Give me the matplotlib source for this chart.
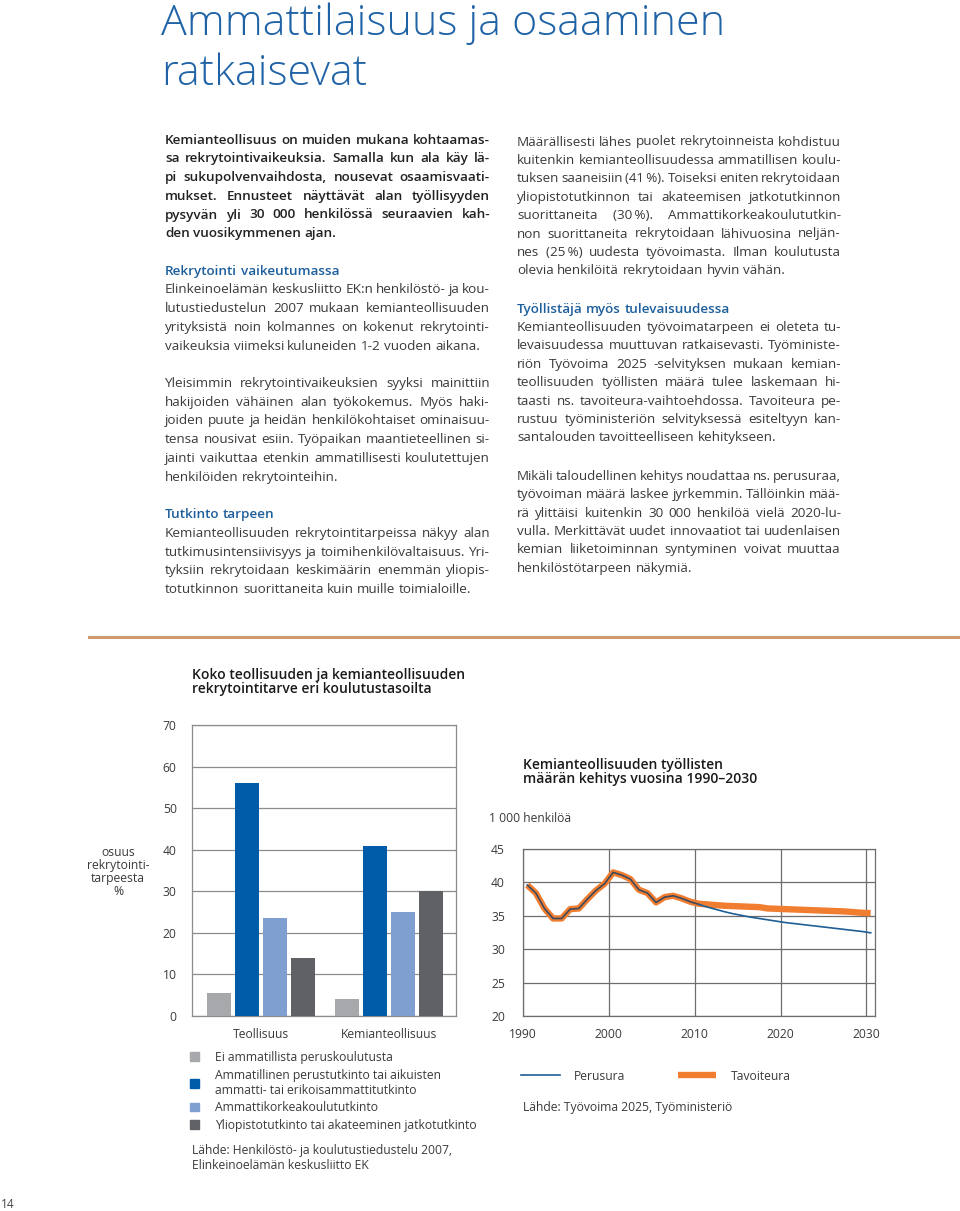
import matplotlib
matplotlib.use("Agg")
import matplotlib.pyplot as plt
from matplotlib.patches import Patch
from matplotlib.lines import Line2D
import numpy as np

W, H = 960, 1211
plt.rcParams['font.family'] = ['Open Sans', 'DejaVu Sans']

# ---- data: bar chart ----
groups = ["Teollisuus", "Kemianteollisuus"]
levels = ["Ei ammatillista peruskoulutusta",
          "Ammatillinen perustutkinto tai aikuisten\nammatti- tai erikoisammattitutkinto",
          "Ammattikorkeakoulututkinto",
          "Yliopistotutkinto tai akateeminen jatkotutkinto"]
share_teollisuus = [5.5, 56, 23.5, 14]
share_kemia = [4, 41, 25, 30]
bar_yticks = [0, 10, 20, 30, 40, 50, 60, 70]

# ---- data: line chart ----
hist_years = list(range(1990, 2010))
hist_values = [39.6, 38.4, 36.1, 34.6, 34.6, 36.0, 36.1, 37.5, 38.8, 39.8,
               41.5, 41.1, 40.5, 38.9, 38.4, 37.0, 37.8, 38.0, 37.6, 37.1]
proj_years = list(range(2010, 2031))
perusura = [36.7, 36.3, 35.95, 35.6, 35.3, 35.05, 34.8, 34.6, 34.4, 34.2,
            34.0, 33.85, 33.7, 33.55, 33.4, 33.25, 33.1, 32.95, 32.8, 32.65, 32.45]
tavoiteura = [36.8, 36.7, 36.6, 36.5, 36.45, 36.4, 36.35, 36.3, 36.1, 36.05,
              36.0, 35.95, 35.9, 35.85, 35.8, 35.75, 35.7, 35.65, 35.55, 35.45, 35.4]
line_xticks = [1990, 2000, 2010, 2020, 2030]
line_yticks = [20, 25, 30, 35, 40, 45]

# ---- page text ----
title_lines = ["Ammattilaisuus ja osaaminen", "ratkaisevat"]
left_col = [
    ("intro", ["Kemianteollisuus on muiden mukana kohtaamas-",
               "sa rekrytointivaikeuksia. Samalla kun ala käy lä-",
               "pi sukupolvenvaihdosta, nousevat osaamisvaati-",
               "mukset. Ennusteet näyttävät alan työllisyyden",
               "pysyvän yli 30 000 henkilössä seuraavien kah-",
               "den vuosikymmenen ajan."]),
    ("head", ["Rekrytointi vaikeutumassa"]),
    ("body", ["Elinkeinoelämän keskusliitto EK:n henkilöstö- ja kou-",
              "lutustiedustelun 2007 mukaan kemianteollisuuden",
              "yrityksistä noin kolmannes on kokenut rekrytointi-",
              "vaikeuksia viimeksi kuluneiden 1-2 vuoden aikana."]),
    ("body", ["Yleisimmin rekrytointivaikeuksien syyksi mainittiin",
              "hakijoiden vähäinen alan työkokemus. Myös haki-",
              "joiden puute ja heidän henkilökohtaiset ominaisuu-",
              "tensa nousivat esiin. Työpaikan maantieteellinen si-",
              "jainti vaikuttaa etenkin ammatillisesti koulutettujen",
              "henkilöiden rekrytointeihin."]),
    ("head", ["Tutkinto tarpeen"]),
    ("body", ["Kemianteollisuuden rekrytointitarpeissa näkyy alan",
              "tutkimusintensiivisyys ja toimihenkilövaltaisuus. Yri-",
              "tyksiin rekrytoidaan keskimäärin enemmän yliopis-",
              "totutkinnon suorittaneita kuin muille toimialoille."]),
]
right_col = [
    ("body", ["Määrällisesti lähes puolet rekrytoinneista kohdistuu",
              "kuitenkin kemianteollisuudessa ammatillisen koulu-",
              "tuksen saaneisiin (41\u2009%). Toiseksi eniten rekrytoidaan",
              "yliopistotutkinnon tai akateemisen jatkotutkinnon",
              "suorittaneita (30\u2009%). Ammattikorkeakoulututkin-",
              "non suorittaneita rekrytoidaan lähivuosina neljän-",
              "nes (25\u2009%) uudesta työvoimasta. Ilman koulutusta",
              "olevia henkilöitä rekrytoidaan hyvin vähän."]),
    ("head", ["Työllistäjä myös tulevaisuudessa"]),
    ("body", ["Kemianteollisuuden työvoimatarpeen ei oleteta tu-",
              "levaisuudessa muuttuvan ratkaisevasti. Työministe-",
              "riön Työvoima 2025 -selvityksen mukaan kemian-",
              "teollisuuden työllisten määrä tulee laskemaan hi-",
              "taasti ns. tavoiteura-vaihtoehdossa. Tavoiteura pe-",
              "rustuu työministeriön selvityksessä esiteltyyn kan-",
              "santalouden tavoitteelliseen kehitykseen."]),
    ("body", ["Mikäli taloudellinen kehitys noudattaa ns. perusuraa,",
              "työvoiman määrä laskee jyrkemmin. Tällöinkin mää-",
              "rä ylittäisi kuitenkin 30 000 henkilöä vielä 2020-lu-",
              "vulla. Merkittävät uudet innovaatiot tai uudenlaisen",
              "kemian liiketoiminnan syntyminen voivat muuttaa",
              "henkilöstötarpeen näkymiä."]),
]

BLUE_TXT = "#1d5f9c"
BODY = "#3a3a3a"
FS_BODY = 9.7
FS_SMALL = 8.7
MIN_GAP = 2.3

fig = plt.figure(figsize=(W / 100, H / 100), dpi=100)
renderer = fig.canvas.get_renderer()


def fx(x):
    return x / W


def fy(y):
    return 1 - y / H


def word_widths(words, **kw):
    objs = [fig.text(0, 0, w_, **kw) for w_ in words]
    ws = [o.get_window_extent(renderer).width for o in objs]
    for o in objs:
        o.remove()
    return ws


def draw_line_justified(x0, y, text, width, justify, **kw):
    words = text.split(" ")
    n_gaps = max(len(words) - 1, 1)
    ws = word_widths(words, **kw)
    need = sum(ws) + n_gaps * MIN_GAP
    if need > width:
        # only a tiny shrink is needed for the tightest lines
        kw = dict(kw)
        kw["fontsize"] = kw["fontsize"] * (width - n_gaps * MIN_GAP) / sum(ws)
        ws = word_widths(words, **kw)
    if justify:
        gap = (width - sum(ws)) / n_gaps
    else:
        gap = word_widths(["a a"], **kw)[0] - word_widths(["aa"], **kw)[0]
        gap = min(gap, (width - sum(ws)) / n_gaps)
    x = x0
    for w_, ww in zip(words, ws):
        fig.text(fx(x), fy(y), w_, va="center", ha="left", **kw)
        x += ww + gap


def draw_column(blocks, x0, y0, width, step, para_gap):
    y = y0
    prev = None
    for kind, lines in blocks:
        if prev is not None and prev != "head":
            y += para_gap
        if kind == "head":
            style = dict(color=BLUE_TXT, fontsize=FS_BODY, fontweight="semibold")
        elif kind == "intro":
            style = dict(color="#222222", fontsize=FS_BODY, fontweight="semibold")
        else:
            style = dict(color=BODY, fontsize=FS_BODY)
        for i, ln in enumerate(lines):
            last = (i == len(lines) - 1) or kind == "head"
            draw_line_justified(x0, y, ln, width, not last, **style)
            y += step
        prev = kind


# title
for i, t in enumerate(title_lines):
    fig.text(fx(161), fy(24 + i * 50), t, fontsize=31, color="#1f63a6",
             fontweight="light", va="center", ha="left")

draw_column(left_col, 165, 140, 325, 18.75, 18.6)
draw_column(right_col, 517, 142, 324, 18.4, 20)

# separator line
fig.add_artist(Line2D([fx(89), fx(960)], [fy(637), fy(637)], color="#d09a70", lw=2.2))

# page number
fig.text(fx(1), fy(1205), "14", fontsize=8.5, color="#444444", va="center", ha="left")

# ---------------- bar chart ----------------
ax1 = fig.add_axes([fx(192), fy(1016), (456 - 192) / W, (1016 - 725) / H])
bar_colors = ["#a6a8ab", "#005ca9", "#7f9fd0", "#606164"]
x = np.arange(len(groups))
bw = 0.1875
step_b = 0.219
data = np.array([share_teollisuus, share_kemia])
handles = []
for k in range(len(levels)):
    ax1.bar(x + (k - 1.5) * step_b, data[:, k], width=bw, color=bar_colors[k], zorder=3)
    handles.append(Patch(color=bar_colors[k]))
ax1.set_xlim(-0.539, 1.523)
ax1.set_ylim(0, 70)
ax1.set_yticks(bar_yticks)
ax1.set_xticks(x)
ax1.set_xticklabels(groups)
ax1.tick_params(axis="both", length=0, labelsize=FS_SMALL, labelcolor="#3a3a3a")
ax1.tick_params(axis="y", pad=11)
ax1.tick_params(axis="x", pad=9)
ax1.grid(axis="y", color="#8c8c8c", lw=0.9, zorder=0)
for s in ax1.spines.values():
    s.set_color("#8c8c8c")
    s.set_linewidth(0.9)

fig.text(fx(118), fy(872), "osuus\nrekrytointi-\ntarpeesta\n%", ha="center", va="center",
         fontsize=FS_SMALL, color="#3a3a3a", linespacing=1.0)
fig.text(fx(192), fy(682), "Koko teollisuuden ja kemianteollisuuden\nrekrytointitarve eri koulutustasoilta",
         ha="left", va="center", fontsize=10, color="#1a1a1a", fontweight="semibold", linespacing=1.0)

fig.legend(handles, levels, loc="upper left", bbox_to_anchor=(fx(190), fy(1051)),
           frameon=False, fontsize=FS_SMALL, handlelength=0.72, handleheight=0.72,
           handletextpad=1.35, labelspacing=0.38, borderaxespad=0, borderpad=0,
           labelcolor="#3a3a3a")
fig.text(fx(192), fy(1158), "Lähde: Henkilöstö- ja koulutustiedustelu 2007,\nElinkeinoelämän keskusliitto EK",
         ha="left", va="center", fontsize=FS_SMALL, color="#3a3a3a", linespacing=1.15)

# ---------------- line chart ----------------
ax2 = fig.add_axes([fx(523), fy(1016), (875 - 523) / W, (1016 - 849) / H])
mid = 0.5  # values plotted at mid-year
all_years = np.array(hist_years + proj_years) + mid
tav = hist_values + tavoiteura
ax2.plot(all_years, tav, color="#f07d30", lw=4.6, solid_capstyle="butt", zorder=3)
ax2.plot(np.array(hist_years + [proj_years[0]]) + mid, hist_values + [perusura[0]],
         color="#3b4a5e", lw=1.2, zorder=4)
ax2.plot(np.array(proj_years) + mid, perusura, color="#1f5f96", lw=1.2, zorder=4)
ax2.set_xlim(1990, 2031)
ax2.set_ylim(20, 45)
ax2.set_xticks(line_xticks)
ax2.set_yticks(line_yticks)
ax2.tick_params(axis="both", length=0, labelsize=FS_SMALL, labelcolor="#3a3a3a")
ax2.tick_params(axis="y", pad=13)
ax2.tick_params(axis="x", pad=9)
ax2.grid(color="#6e6e6e", lw=0.9, zorder=0)
for s in ax2.spines.values():
    s.set_color("#6e6e6e")
    s.set_linewidth(0.9)

fig.text(fx(523), fy(772), "Kemianteollisuuden työllisten\nmäärän kehitys vuosina 1990–2030",
         ha="left", va="center", fontsize=10, color="#1a1a1a", fontweight="semibold", linespacing=1.0)
fig.text(fx(489), fy(818), "1 000 henkilöä", ha="left", va="center", fontsize=FS_SMALL, color="#3a3a3a")

lh = [Line2D([], [], color="#1f5f96", lw=1.2), Line2D([], [], color="#f07d30", lw=4.6, solid_capstyle="butt")]
fig.legend(lh, ["Perusura", "Tavoiteura"], loc="center left", bbox_to_anchor=(fx(521), fy(1076)),
           ncol=2, frameon=False, fontsize=FS_SMALL, handlelength=3.2, handletextpad=1.2,
           columnspacing=4.3, borderaxespad=0, borderpad=0, labelcolor="#3a3a3a")
fig.text(fx(523), fy(1108), "Lähde: Työvoima 2025, Työministeriö", ha="left", va="center",
         fontsize=FS_SMALL, color="#3a3a3a")

fig.savefig("out.png", dpi=100)
